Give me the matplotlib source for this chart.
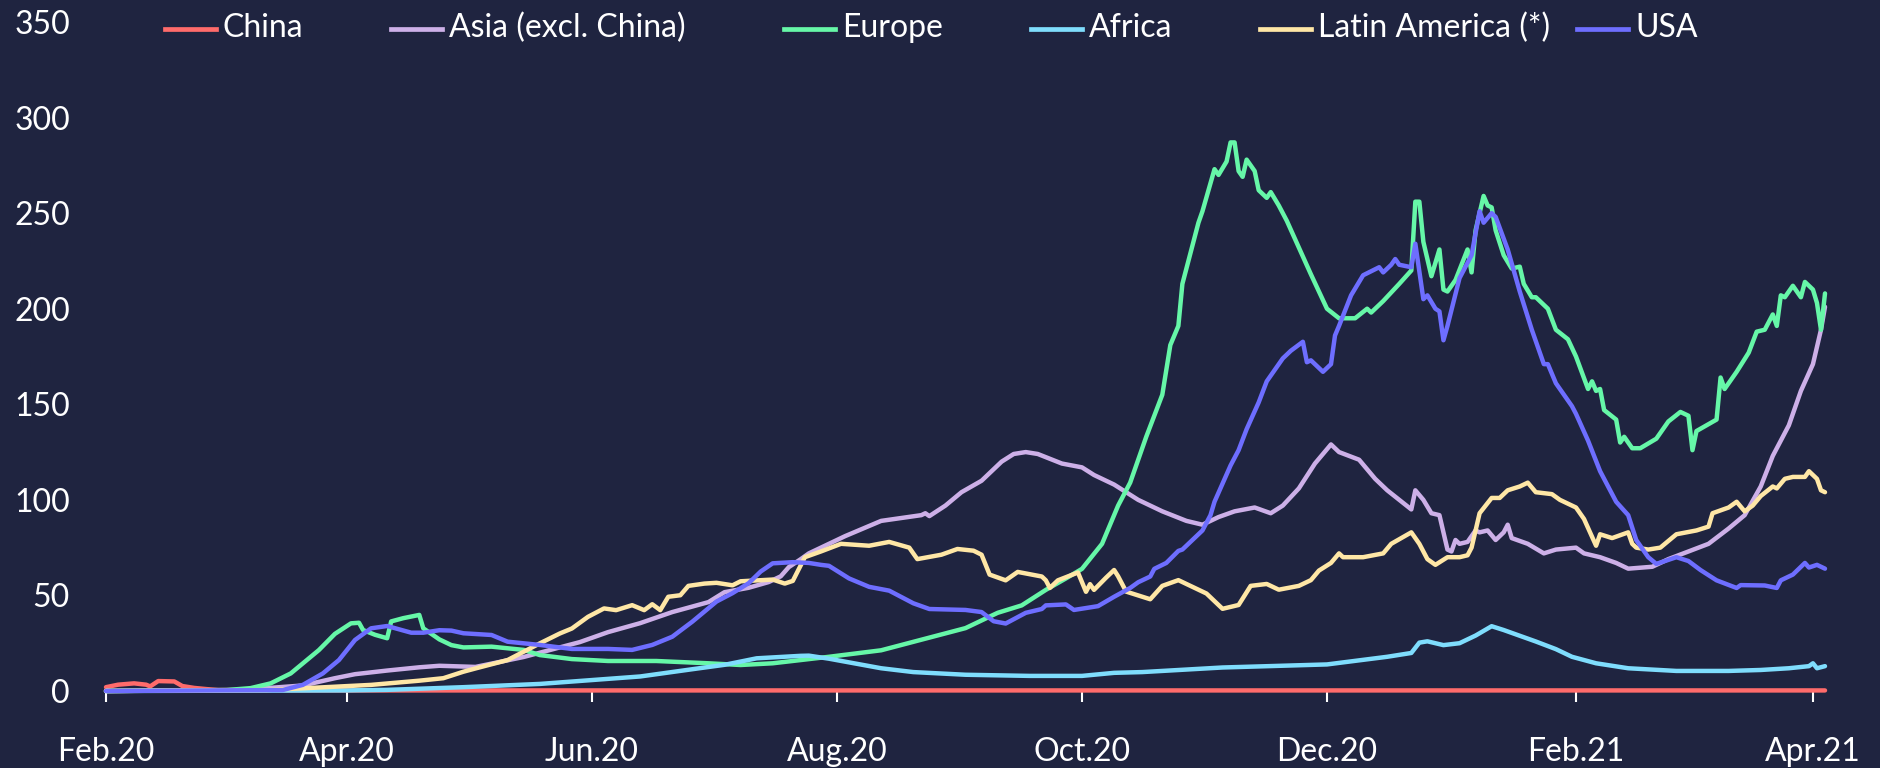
import numpy as np
import pandas as pd
import matplotlib
matplotlib.use("Agg")
import matplotlib.pyplot as plt
import matplotlib.dates as mdates
from matplotlib.lines import Line2D

plt.rcParams['font.family'] = ['Lato', 'DejaVu Sans']

start = pd.Timestamp('2020-02-01')

# day offsets from 1 Feb 2020 and values
china_days = [0, 3, 7, 10, 11, 13, 17, 19, 22, 25, 28, 60, 120, 200, 300, 428]
china_vals = [2.0, 3.3, 4.0, 3.3, 2.4, 5.2, 5.0, 2.6, 1.6, 1.0, 0.5, 0.3, 0.3, 0.3, 0.3, 0.3]

asia_days = [0, 32, 40, 49, 57, 62, 70, 78, 83, 89, 92, 104, 118, 125, 133, 141, 150, 154, 160,
             165, 168, 170, 173, 175, 184, 193, 203, 204, 205, 209, 213, 218, 223, 226, 229, 232,
             238, 243, 246, 251, 257, 263, 269, 273, 277, 281, 286, 290, 293, 297, 301, 305, 307,
             312, 316, 319, 322, 325, 326, 328, 330, 332, 334, 335, 336, 337, 339, 341, 342, 344,
             346, 348, 349, 350, 354, 358, 361, 366, 368, 372, 376, 379, 385, 389, 394, 399, 404,
             408, 412, 415, 419, 422, 425, 427, 428]
asia_vals = [0, 0.5, 1.5, 2.9, 6.7, 8.8, 10.7, 12.4, 13.2, 12.8, 12.6, 17.8, 25.6, 30.8, 35.5, 41.3,
             46.5, 51.7, 54, 57, 60, 64.8, 69, 72, 81, 89, 92, 93, 91.5, 97, 104, 110, 120, 124, 125,
             124, 119, 117, 113, 108, 100, 94, 89, 87, 91, 94, 96, 93, 97, 106, 119, 129, 125, 121,
             111, 105, 100, 95, 105, 100, 93, 92, 74, 73, 79, 77, 78, 84, 83, 84, 79, 83, 87, 80, 77,
             72, 74, 75, 72, 70, 67, 64, 65, 69, 73, 77, 85, 92, 107, 123, 139, 157, 171, 189, 201]

europe_days = [0, 30, 36, 41, 46, 49, 53, 57, 61, 63, 64, 67, 70, 71, 74, 78, 79, 83, 86, 89, 96,
               104, 108, 116, 125, 137, 150, 158, 166, 173, 180, 193, 205, 214, 222, 228, 234, 239,
               243, 248, 252, 255, 259, 263, 265, 267, 268, 272, 273, 276, 277, 279, 280, 281, 282,
               283, 284, 286, 287, 289, 290, 292, 294, 297, 300, 304, 307, 311, 314, 315, 318, 322,
               325, 326, 327, 328, 330, 332, 333, 334, 336, 339, 340, 341, 343, 344, 345, 346, 348,
               350, 352, 353, 355, 356, 359, 361, 364, 366, 369, 370, 371, 372, 373, 376, 377, 378,
               380, 382, 386, 387, 389, 392, 394, 395, 396, 401, 402, 403, 406, 409, 411, 413, 415,
               416, 417, 418, 420, 422, 423, 425, 426, 427, 428]
europe_vals = [0, 0.5, 1.5, 4, 9.2, 14.4, 21.4, 29.9, 35.4, 35.7, 31.9, 29.4, 27.6, 36.4, 38.1, 39.8,
               32.8, 27, 24, 22.8, 23.2, 21.5, 18.8, 16.7, 15.7, 15.7, 14.5, 13.6, 14.5, 16.2, 17.9,
               21.3, 27.9, 32.9, 40.9, 44.8, 52.9, 58.9, 63.9, 77, 97, 109, 133, 155, 181, 191, 213,
               245, 251, 273, 270, 277, 287, 287, 272, 269, 278, 272, 262, 258, 261, 254, 246, 232,
               218, 200, 195, 195, 200, 198, 204, 213, 220, 256, 256, 235, 217, 231, 210, 209, 215,
               231, 219, 241, 259, 254, 253, 241, 228, 221, 222, 213, 206, 206, 200, 189, 184, 175,
               158, 162, 157, 158, 147, 142, 130, 133, 127, 127, 132, 135, 141, 146, 144, 126, 136,
               142, 164, 158, 167, 177, 188, 189, 197, 191, 207, 206, 212, 206, 214, 210, 203, 189, 208]

africa_days = [0, 60, 70, 89, 108, 133, 146, 154, 162, 173, 175, 180, 193, 201, 214, 230, 243, 251,
               258, 278, 304, 319, 325, 327, 329, 333, 337, 341, 345, 348, 352, 356, 361, 365, 371,
               379, 391, 404, 412, 419, 424, 425, 426, 428]
africa_vals = [0, 0.3, 0.6, 2, 3.7, 7.6, 11.4, 13.7, 17.1, 18.4, 18.5, 16.9, 11.9, 9.9, 8.5, 7.9, 7.9,
               9.5, 9.9, 12.3, 13.9, 17.9, 19.9, 25.3, 26, 24, 25, 29, 33.9, 31.9, 28.9, 25.9, 21.9,
               17.9, 14.5, 11.9, 10.5, 10.5, 11, 11.9, 13, 14.5, 11.9, 13]

latam_days = [0, 40, 49, 66, 78, 84, 89, 92, 100, 108, 113, 116, 120, 124, 127, 131, 134, 136, 138,
              140, 143, 145, 149, 152, 156, 158, 166, 169, 171, 174, 178, 183, 190, 195, 200, 202,
              208, 212, 216, 218, 220, 224, 227, 233, 234, 235, 237, 242, 244, 245, 246, 249, 251,
              252, 254, 257, 260, 263, 267, 269, 274, 278, 282, 285, 289, 292, 297, 300, 302, 305,
              307, 308, 313, 318, 320, 325, 327, 329, 331, 334, 337, 339, 340, 342, 345, 347, 349,
              352, 354, 356, 360, 362, 366, 368, 371, 372, 375, 379, 380, 381, 384, 387, 391, 396,
              399, 400, 404, 406, 408, 410, 412, 415, 416, 418, 420, 423, 424, 426, 427, 428]
latam_vals = [0, 0.5, 1.4, 3.2, 5.4, 6.7, 10.1, 11.8, 16.2, 24.9, 30.1, 32.7, 38.8, 43.2, 42.3, 44.9,
              42.3, 45.4, 42.3, 49.3, 50.1, 55, 56.2, 56.6, 55.3, 57.4, 58.3, 56.2, 57.6, 70, 73, 77,
              76, 78, 75, 69, 71.3, 74.3, 73.4, 71.3, 60.9, 57.9, 62.3, 59.9, 57.9, 53.9, 57.9, 62,
              51.9, 55.9, 52.9, 59.3, 63.3, 60, 52, 50, 48, 55, 58, 56, 51, 43, 45, 55, 56, 53, 55,
              58, 63, 67, 72, 70, 70, 72, 77, 83, 77, 69, 66, 70, 70, 71, 75, 93, 101, 101, 105, 107,
              109, 104, 103, 100, 96, 90, 76, 82, 80, 83, 77, 75, 74, 75, 82, 84, 86, 93, 96, 99, 94,
              97, 102, 107, 106, 111, 112, 112, 115, 111, 105, 104]

usa_days = [0, 44, 49, 54, 58, 62, 66, 70, 76, 79, 83, 86, 89, 96, 100, 108, 116, 125, 131, 136,
            141, 146, 152, 156, 160, 163, 166, 171, 175, 178, 180, 185, 190, 195, 201, 205, 214,
            218, 221, 224, 229, 233, 234, 239, 241, 247, 251, 255, 257, 260, 261, 264, 267, 268,
            273, 275, 276, 280, 282, 284, 287, 289, 293, 295, 298, 299, 300, 303, 305, 306, 307,
            310, 313, 317, 318, 320, 321, 322, 325, 326, 328, 329, 331, 332, 333, 334, 337, 340,
            342, 343, 345, 346, 349, 352, 355, 358, 359, 361, 365, 366, 369, 372, 376, 379, 381,
            384, 386, 391, 394, 397, 401, 406, 407, 413, 416, 417, 420, 423, 424, 426, 428]
usa_vals = [0, 0.5, 3.2, 9.2, 16.2, 26.7, 32.8, 34, 30.5, 30.5, 31.8, 31.6, 30.2, 29.3, 25.8, 24.1,
            22, 22, 21.5, 24.1, 28.4, 36.3, 46.8, 51.2, 56.4, 62.5, 66.8, 67.4, 67, 66, 65.5, 58.9,
            54.5, 52.5, 45.9, 42.9, 42.4, 41.3, 36.5, 35.3, 40.9, 42.9, 44.8, 45.3, 42.4, 44.4, 49.3,
            53.9, 56.9, 59.9, 63.9, 67, 73.3, 74, 84, 92, 99, 118, 126, 137, 151, 162, 174, 178,
            182.7, 172, 173, 167, 171, 186, 191, 207, 217.5, 221.7, 219, 223, 226, 223, 221.7, 234,
            205, 207, 200, 198.6, 183.5, 191, 216, 228, 251, 245, 250, 248, 231, 209, 189, 171, 171,
            161, 149, 145, 131, 115, 99, 92, 79, 70, 66.5, 70, 68, 63.3, 57.9, 53.9, 55.4, 55.2,
            53.9, 57.9, 60.9, 67, 64.6, 66, 64]

names = ['China', 'Asia (excl. China)', 'Europe', 'Africa', 'Latin America (*)', 'USA']
colors = ['#FF6B6B', '#CDB0E8', '#66F7A8', '#7FDDFD', '#FFE7A6', '#6E6EFF']
series = [(china_days, china_vals), (asia_days, asia_vals), (europe_days, europe_vals),
          (africa_days, africa_vals), (latam_days, latam_vals), (usa_days, usa_vals)]

bg = '#1F2440'
W, H = 1880, 768
fig = plt.figure(figsize=(W / 100, H / 100), dpi=100, facecolor=bg)
ax = fig.add_axes([106 / W, 1 - 691 / H, (1825 - 106) / W, (691 - 22) / H], facecolor=bg)

for (d, v), c in zip(series, colors):
    dates = start + pd.to_timedelta(d, unit='D')
    ax.plot(dates, v, color=c, lw=3.2, solid_joinstyle='round', solid_capstyle='round',
            clip_on=False)

ax.set_ylim(0, 350)
ax.set_yticks(np.arange(0, 351, 50))
ax.set_xlim(start, start + pd.Timedelta(days=428))
ax.xaxis.set_major_locator(mdates.MonthLocator(bymonth=[2, 4, 6, 8, 10, 12]))
ax.xaxis.set_major_formatter(mdates.DateFormatter('%b.%y'))

for s in ax.spines.values():
    s.set_visible(False)
ax.tick_params(axis='x', colors='white', length=8, width=1.5, pad=25, labelsize=23)
ax.tick_params(axis='y', colors='white', length=0, pad=26, labelsize=23)

# legend drawn by hand so the entry spacing matches the original
leg_x = [165, 391, 784, 1031, 1260, 1577]
for x0, name, c in zip(leg_x, names, colors):
    fig.add_artist(Line2D([x0 / W, (x0 + 51) / W], [1 - 29 / H] * 2, color=c, lw=3.4,
                          transform=fig.transFigure))
    fig.text((x0 + 58) / W, 1 - 37 / H, name, color='white', fontsize=23, va='baseline', ha='left')

fig.savefig('out.png', dpi=100, facecolor=bg)
